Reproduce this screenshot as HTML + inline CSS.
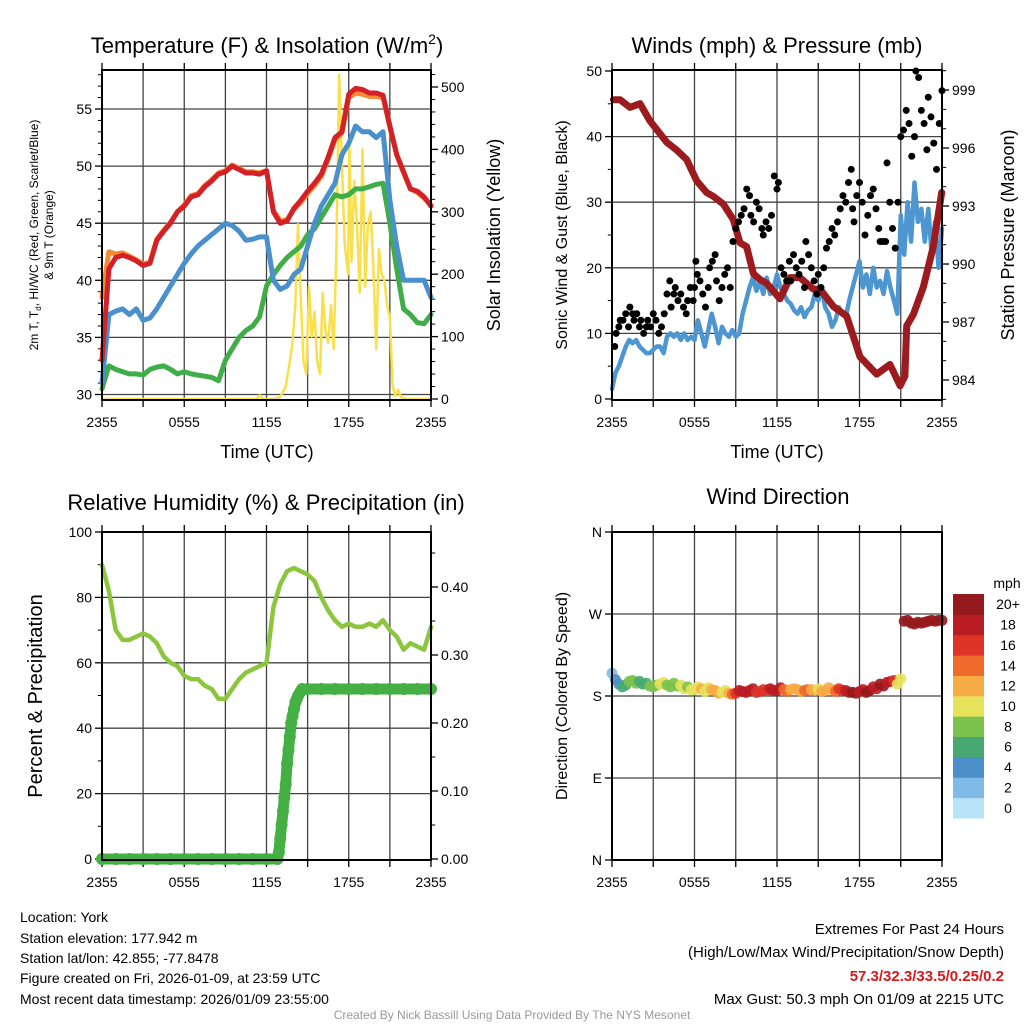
<!DOCTYPE html>
<html><head><meta charset="utf-8">
<style>
html,body{margin:0;padding:0;background:#fff;}
svg{display:block;font-family:"Liberation Sans",sans-serif;}
</style></head>
<body>
<svg id="c" width="1024" height="1024" viewBox="0 0 1024 1024" xmlns="http://www.w3.org/2000/svg">
<rect width="1024" height="1024" fill="#fff"/>
<text x="267" y="53" font-size="22" text-anchor="middle">Temperature (F) &amp; Insolation (W/m<tspan font-size="14" dy="-9">2</tspan><tspan dy="9">)</tspan></text>
<text x="777" y="53" font-size="22" text-anchor="middle">Winds (mph) &amp; Pressure (mb)</text>
<text x="266" y="510" font-size="22" text-anchor="middle">Relative Humidity (%) &amp; Precipitation (in)</text>
<text x="778" y="504" font-size="22" text-anchor="middle">Wind Direction</text>
<text x="267" y="458" font-size="18" text-anchor="middle">Time (UTC)</text>
<text x="777" y="458" font-size="18" text-anchor="middle">Time (UTC)</text>
<text transform="translate(38,235) rotate(-90)" font-size="12" text-anchor="middle">2m T, T<tspan font-size="8" dy="3">d</tspan><tspan dy="-3">, HI/WC (Red, Green, Scarlet/Blue)</tspan></text>
<text transform="translate(53,235) rotate(-90)" font-size="12" text-anchor="middle">&amp; 9m T (Orange)</text>
<text transform="translate(500,235) rotate(-90)" font-size="18" text-anchor="middle">Solar Insolation (Yellow)</text>
<text transform="translate(567,235) rotate(-90)" font-size="16" text-anchor="middle">Sonic Wind &amp; Gust (Blue, Black)</text>
<text transform="translate(1014,235) rotate(-90)" font-size="18" text-anchor="middle">Station Pressure (Maroon)</text>
<text transform="translate(42,696) rotate(-90)" font-size="20" text-anchor="middle">Percent &amp; Precipitation</text>
<text transform="translate(567,696) rotate(-90)" font-size="16" text-anchor="middle">Direction (Colored By Speed)</text>
<g font-size="14">
<text x="20" y="922">Location: York</text>
<text x="20" y="943">Station elevation: 177.942 m</text>
<text x="20" y="963">Station lat/lon: 42.855; -77.8478</text>
<text x="20" y="983">Figure created on Fri, 2026-01-09, at 23:59 UTC</text>
<text x="20" y="1004">Most recent data timestamp: 2026/01/09 23:55:00</text>
</g>
<g font-size="15" text-anchor="end">
<text x="1004" y="934">Extremes For Past 24 Hours</text>
<text x="1004" y="957">(High/Low/Max Wind/Precipitation/Snow Depth)</text>
<text x="1004" y="981" fill="#d7191c" font-weight="bold">57.3/32.3/33.5/0.25/0.2</text>
<text x="1004" y="1004">Max Gust: 50.3 mph On 01/09 at 2215 UTC</text>
</g>
<text x="512" y="1019" font-size="12" fill="#999" text-anchor="middle">Created By Nick Bassill Using Data Provided By The NYS Mesonet</text>
<g id="plots"></g>
</svg>
<script>
const timeTickLabels=["2355","0555","1155","1755","2355"];
const timeTickHours=[0,6,12,18,24];
const halfHours=[0,0.5,1,1.5,2,2.5,3,3.5,4,4.5,5,5.5,6,6.5,7,7.5,8,8.5,9,9.5,10,10.5,11,11.5,12,12.5,13,13.5,14,14.5,15,15.5,16,16.5,17,17.5,18,18.5,19,19.5,20,20.5,21,21.5,22,22.5,23,23.5,24];
const temp2m=[33,41,42,42.2,42,41.7,41.3,41.5,43.5,44.3,45,46,46.5,47.3,47.5,48.2,48.7,49.3,49.5,50,49.7,49.4,49.4,49.3,49.6,46,45,45.2,46.3,47,47.8,48.5,49.3,50.8,52.5,53,56.3,56.8,56.7,56.4,56.4,56.2,53.5,51,49.5,48,47.8,47.3,46.5];
const temp9m=[38.5,42.5,42.3,42.4,42.1,41.8,41.4,41.6,43.6,44.4,45.1,46,46.6,47.4,47.6,48.3,48.8,49.4,49.6,50.1,49.8,49.5,49.5,49.4,49.6,46.1,45.2,45.3,46.2,46.8,47.6,48.3,49.1,50.6,52.3,52.9,56,56.4,56.3,56.1,56.1,56,53.4,51,49.4,48,47.7,47.2,46.6];
const heatIndexWindChill=[31,37,37.3,37.5,37,37.5,36.5,36.7,37.5,38.5,39.5,40.5,41.5,42.3,43,43.5,44,44.5,45,44.8,44.3,43.5,43.6,43.8,43.8,40,39.2,39.5,40.5,41,43,45,46.5,47.5,48.5,51,52,53.5,53,53,52.5,53,47,43,40,40,40,40,38.5];
const dewPoint=[30.5,32.5,32.2,32,31.8,31.8,31.7,32.2,32.4,32.5,32.2,31.8,32,31.8,31.7,31.6,31.5,31.2,33,34,35,35.6,36,36.8,39.5,40.5,41.3,42,42.5,43,44,44.5,45.5,46.5,47.5,47.3,47.5,48,48,48.2,48.4,48.5,45,41,37.5,37,36.3,36.2,37];
const solarHours=[0,11.3,11.5,11.7,12.5,13,13.4,13.7,13.9,14.1,14.3,14.5,14.7,14.9,15.1,15.3,15.5,15.7,15.9,16.1,16.3,16.5,16.7,16.9,17.1,17.3,17.5,17.7,17.95,18.05,18.2,18.4,18.6,18.8,19,19.2,19.4,19.6,19.8,20,20.2,20.4,20.6,20.8,21,21.2,21.4,21.6,21.8,22.2,24];
const solarValues=[0,0,6,0,0,3,20,60,90,150,280,160,60,40,180,100,140,60,40,170,110,90,150,80,240,520,380,250,200,410,220,350,280,170,400,180,280,300,210,80,240,200,190,150,130,20,5,15,3,0,0];
const windHours=[0,0.25,0.5,0.75,1,1.25,1.5,1.75,2,2.25,2.5,2.75,3,3.25,3.5,3.75,4,4.25,4.5,4.75,5,5.25,5.5,5.75,6,6.25,6.5,6.75,7,7.25,7.5,7.75,8,8.25,8.5,8.75,9,9.25,9.5,9.75,10,10.25,10.5,10.75,11,11.25,11.5,11.75,12,12.25,12.5,12.75,13,13.25,13.5,13.75,14,14.25,14.5,14.75,15,15.25,15.5,15.75,16,16.25,16.5,16.75,17,17.25,17.5,17.75,18,18.25,18.5,18.75,19,19.25,19.5,19.75,20,20.25,20.5,20.75,21,21.25,21.5,21.75,22,22.25,22.5,22.75,23,23.25,23.5,23.75,24];
const windSpeed=[1.5,4,5,6.5,8,9,8.5,9,8,7.5,7,7,7.5,8,8,7,9.5,10,9.5,10,9,10,9,9.5,9,12,10,8,10.5,13,11,8.5,11,10,9.5,10.5,9.5,10,13,15,17,18.5,16.5,18,16,18.5,16,17,19,17,16,15,14.5,13.5,13,14,12.5,13.5,14,16,15,17,14,13,11,12,14,13,12.5,15,17,19,21,17,19,16,20,17,18,16,19.5,17,15,13,28,22,30,24,33,27,29,24,29,22,27,20,26];
const gustHours=[0.2,0.3,0.5,0.6,0.8,1,1.2,1.3,1.5,1.6,1.8,2,2.1,2.3,2.5,2.6,2.8,3,3.2,3.4,3.6,3.8,4,4.2,4.3,4.5,4.6,4.8,5,5.2,5.4,5.5,5.7,5.9,6,6.1,6.2,6.4,6.6,6.8,7,7.1,7.3,7.5,7.6,7.8,8,8.2,8.4,8.6,8.8,9,9.2,9.4,9.6,9.8,10,10.1,10.3,10.5,10.7,10.9,11,11.2,11.4,11.6,11.8,12,12.1,12.3,12.5,12.7,12.9,13,13.2,13.4,13.6,13.8,14,14.1,14.3,14.5,14.7,14.9,15,15.2,15.4,15.6,15.8,16,16.2,16.4,16.6,16.8,17,17.2,17.4,17.5,17.6,17.8,18,18.2,18.4,18.6,18.8,19,19.2,19.4,19.5,19.7,19.9,20,20.2,20.4,20.6,20.8,21,21.2,21.4,21.6,21.8,22,22.1,22.3,22.5,22.7,22.9,23,23.2,23.4,23.6,23.8,24];
const gustSpeed=[8,10,11,12,12,13,11,14,13,12,13,11,12,10,11,12,11,13,12,10,11,13,16,18,14,16,17,15,16,14,13,15,17,15,17,21,19,18,16,14,17,20,21,22,18,15,17,19,20,17,24,26,27,28,29,32,31,28,27,30,29,26,25,27,26,28,34,32,33,20,19,18,21,18,22,20,19,21,17,24,22,20,18,16,19,17,20,23,24,26,25,27,29,31,30,33,35,29,27,31,33,30,25,28,31,32,29,26,24,24,24,36,30,26,23,30,40,41,44,42,37,40,50,49,44,42,38,46,43,39,35,42,47];
const pressureHours=[0.1,0.58,1.31,2.04,2.76,3.98,4.7,5.43,6.16,6.88,7.37,8.1,8.82,9.31,9.79,10.28,10.76,11.25,12.22,12.95,13.67,14.64,15.13,16.1,17.07,18.04,19.25,20.22,20.95,21.3,21.43,21.92,22.64,23.37,23.98];
const pressureValues=[998.5,998.5,998.1,998.3,997.4,996.3,995.9,995.4,994.3,993.7,993.5,993.1,992.3,991.1,990.9,989.5,989.2,989.0,988.2,989.3,989.3,988.7,988.7,987.8,987.3,985.2,984.3,984.8,983.7,984.2,986.8,987.4,988.8,990.9,993.7];
const relHumidity=[90,82,70,67,67,68,69,68,66,62,60,59,56,55,55,53,52,49,49,52,55,57,58,59,60,77,84,88,89,88,87,85,80,76,73,71,72,71,71,72,71,73,70,68,64,66,65,64,71];
const precipHours=[0,1,2,3,4,5,6,7,8,9,10,11,12,12.8,12.9,13.0,13.1,13.2,13.3,13.4,13.5,13.6,13.7,13.8,13.9,14.0,14.1,14.2,14.3,14.45,14.6,15,16,17,18,19,20,21,22,23,24];
const precipValues=[0,0,0,0,0,0,0,0,0,0,0,0,0,0,0.01,0.03,0.05,0.07,0.09,0.11,0.14,0.16,0.18,0.2,0.21,0.22,0.23,0.235,0.24,0.245,0.25,0.25,0.25,0.25,0.25,0.25,0.25,0.25,0.25,0.25,0.25];
const dirHours=[0,0.25,0.5,0.75,1,1.25,1.5,1.75,2,2.25,2.5,2.75,3,3.25,3.5,3.75,4,4.25,4.5,4.75,5,5.25,5.5,5.75,6,6.25,6.5,6.75,7,7.25,7.5,7.75,8,8.25,8.5,8.75,9,9.25,9.5,9.75,10,10.25,10.5,10.75,11,11.25,11.5,11.75,12,12.25,12.5,12.75,13,13.25,13.5,13.75,14,14.25,14.5,14.75,15,15.25,15.5,15.75,16,16.25,16.5,16.75,17,17.25,17.5,17.75,18,18.25,18.5,18.75,19,19.25,19.5,19.75,20,20.25,20.5,20.75,21,21.25,21.5,21.75,22,22.25,22.5,22.75,23,23.25,23.5,23.75,24];
const dirValues=[205,198,193,190,192,196,197,194,196,193,194,191,190,192,193,195,192,190,194,191,192,188,190,187,187,190,188,185,189,187,186,183,184,186,183,182,183,186,185,184,186,188,184,185,187,186,188,186,186,189,187,185,187,188,187,185,186,187,187,186,188,185,186,189,187,185,188,186,186,184,184,183,185,187,184,186,190,188,193,191,195,196,197,193,199,262,263,260,259,261,260,261,262,263,262,263,263,264,268];
const dirSpeed=[3,4,5,6,7,8,9,8,7,7,7,8,8,9,10,10,9,8,8,9,10,10,9,10,10,11,12,11,11,12,12,12,10,11,13,15,17,18,19,19,18,18,17,16,16,17,18,18,19,19,15,14,13,13,12,13,15,14,13,12,11,12,12,13,13,14,16,17,19,19,20,20,19,19,20,21,19,19,21,20,18,18,17,10,10,21,22,22,21,21,22,21,22,21,21,22,22,22,22];
const colorbarLabels=["0","2","4","6","8","10","12","14","16","18","20+"];
const colorbarColors=["#b8e3f8","#7fbbe6","#4a8fc8","#48a872","#7ac24c","#e6e25a","#f7ab45","#f06a2c","#de3427","#ba1c23","#951a1d"];

const NS="http://www.w3.org/2000/svg";
const root=document.getElementById('plots');
function mk(tag,attrs,parent){const e=document.createElementNS(NS,tag);for(const k in attrs)e.setAttribute(k,attrs[k]);(parent||root).appendChild(e);return e;}
function txt(s,x,y,size,anchor,parent){const t=mk('text',{x:x,y:y,'font-size':size,'text-anchor':anchor},parent);t.textContent=s;return t;}

function panel(name,x0,x1,yT,yB){
  const g=mk('g',{});
  
  
  return {g,x0,x1,yT,yB,sx:h=>x0+(x1-x0)*h/24};
}
function frame(p,hGridYs){
  for(let k=1;k<8;k++){const x=p.sx(k*3);const l=mk('line',{x1:x,x2:x,y1:p.yT,y2:p.yB,stroke:'#444','stroke-width':1.3},p.g);
    
    }
  hGridYs.forEach(y=>{const l=mk('line',{x1:p.x0,x2:p.x1,y1:y,y2:y,stroke:'#444','stroke-width':1.3},p.g);
    
    });
  for(let k=0;k<=8;k++){const x=p.sx(k*3);mk('line',{x1:x,x2:x,y1:p.yB,y2:p.yB+7,stroke:'#000','stroke-width':1.3},p.g);mk('line',{x1:x,x2:x,y1:p.yT,y2:p.yT-7,stroke:'#000','stroke-width':1.3},p.g);}
  timeTickHours.forEach((h,i)=>{const t=txt(timeTickLabels[i],p.sx(h),p.yB+27,14,'middle',p.g);
    
    });
}
function border(p){const r=mk('rect',{x:p.x0,y:p.yT,width:p.x1-p.x0,height:p.yB-p.yT,fill:'none',stroke:'#000','stroke-width':2},p.g);
  
  }
function yTicks(p,vals,fy,side,labels,minorVals){
  const xe=side==='l'?p.x0:p.x1, d=side==='l'?-7:7;
  vals.forEach((v,i)=>{const y=fy(v);mk('line',{x1:xe,x2:xe+d,y1:y,y2:y,stroke:'#000','stroke-width':1.3},p.g);
    const t=txt(labels[i],side==='l'?xe-10:xe+10,y+5,14,side==='l'?'end':'start',p.g);
    
    });
  (minorVals||[]).forEach(v=>{const y=fy(v);mk('line',{x1:xe,x2:xe+d*0.6,y1:y,y2:y,stroke:'#000','stroke-width':1},p.g);});
}
function line(p,hs,vs,fy,color,w,name){
  const pts=hs.map((h,i)=>p.sx(h).toFixed(1)+','+fy(vs[i]).toFixed(1)).join(' ');
  const l=mk('polyline',{points:pts,fill:'none',stroke:color,'stroke-width':w,'stroke-linejoin':'round','stroke-linecap':'round'},p.g);
  
  
  return l;
}
function range(a,b,s){const r=[];for(let v=a;v<=b+1e-9;v+=s)r.push(+v.toFixed(3));return r;}

// Panel 1
const p1=panel('temperature-panel',102,431,70,400);
const fT=v=>394.5-(v-30)*11.42, fS=v=>399-v*0.624;
frame(p1,[30,35,40,45,50,55].map(fT));
yTicks(p1,[30,35,40,45,50,55],fT,'l',["30","35","40","45","50","55"],range(31,58,1).filter(v=>v%5));
yTicks(p1,[0,100,200,300,400,500],fS,'r',["0","100","200","300","400","500"],range(20,520,20).filter(v=>v%100));
line(p1,solarHours,solarValues,fS,'#f9e04b',2.5,'solar-insolation-line');
line(p1,halfHours,dewPoint,fT,'#3fae49',5,'dewpoint-line');
line(p1,halfHours,heatIndexWindChill,fT,'#4a90cc',5,'windchill-line');
line(p1,halfHours,temp9m,fT,'#f58a33',5,'temp-9m-line');
line(p1,halfHours,temp2m,fT,'#d42027',5,'temp-2m-line');
border(p1);

// Panel 2
const p2=panel('winds-panel',612,942,70,400);
const fW=v=>399-v*6.56, fP=v=>380-(v-984)*19.33;
frame(p2,[10,20,30,40].map(fW));
yTicks(p2,[0,10,20,30,40,50],fW,'l',["0","10","20","30","40","50"],range(5,45,10));
yTicks(p2,[984,987,990,993,996,999],fP,'r',["984","987","990","993","996","999"],range(983,1000,1).filter(v=>(v-984)%3));
line(p2,windHours,windSpeed,fW,'#4d96d1',4.5,'wind-speed-line');
line(p2,pressureHours,pressureValues,fP,'#9b1b1e',7,'pressure-line');
gustHours.forEach((h,i)=>{const c=mk('circle',{cx:p2.sx(h),cy:fW(gustSpeed[i]),r:3.5,fill:'#000'},p2.g);
  
  });
border(p2);

// Panel 3
const p3=panel('humidity-panel',102,431,532,860);
const fR=v=>859-v*3.27, fQ=v=>859-v*680;
frame(p3,[20,40,60,80].map(fR));
yTicks(p3,[0,20,40,60,80,100],fR,'l',["0","20","40","60","80","100"],range(10,90,20));
yTicks(p3,[0,0.1,0.2,0.3,0.4],fQ,'r',["0.00","0.10","0.20","0.30","0.40"],[0.05,0.15,0.25,0.35,0.45]);
line(p3,halfHours,relHumidity,fR,'#8cc63f',4.5,'relative-humidity-line');
line(p3,precipHours,precipValues,fQ,'#44b044',11,'precipitation-line');
precipHours.forEach((h,i)=>{const c=mk('circle',{cx:p3.sx(h),cy:fQ(precipValues[i]),r:6,fill:'#44b044'},p3.g);
  
  });
border(p3);

// Panel 4
const p4=panel('wind-direction-panel',612,942,532,860);
const fD=v=>860-v*328/360;
frame(p4,[90,180,270].map(fD));
yTicks(p4,[0,90,180,270,360],fD,'l',["N","E","S","W","N"],[]);
const colorFor=s=>colorbarColors[Math.min(10,Math.floor(s/2))];
dirHours.forEach((h,i)=>{const c=mk('circle',{cx:p4.sx(h),cy:fD(dirValues[i]),r:5.5,fill:colorFor(dirSpeed[i]),'fill-opacity':0.9},p4.g);
  
  });
border(p4);

// Colorbar
const cb=mk('g',{});


const cbTop=594,cbBot=818,cbH=(cbBot-cbTop)/colorbarColors.length;
colorbarColors.forEach((col,i)=>{const r=mk('rect',{x:953,y:cbBot-(i+1)*cbH,width:31,height:cbH+0.5,fill:col},cb);
  
  
  const t=txt(colorbarLabels[i],1008,cbBot-(i+0.5)*cbH+5,14,'middle',cb);
  
  });
const cbt=txt('mph',1007,588,14,'middle',cb);


</script>
</body></html>
